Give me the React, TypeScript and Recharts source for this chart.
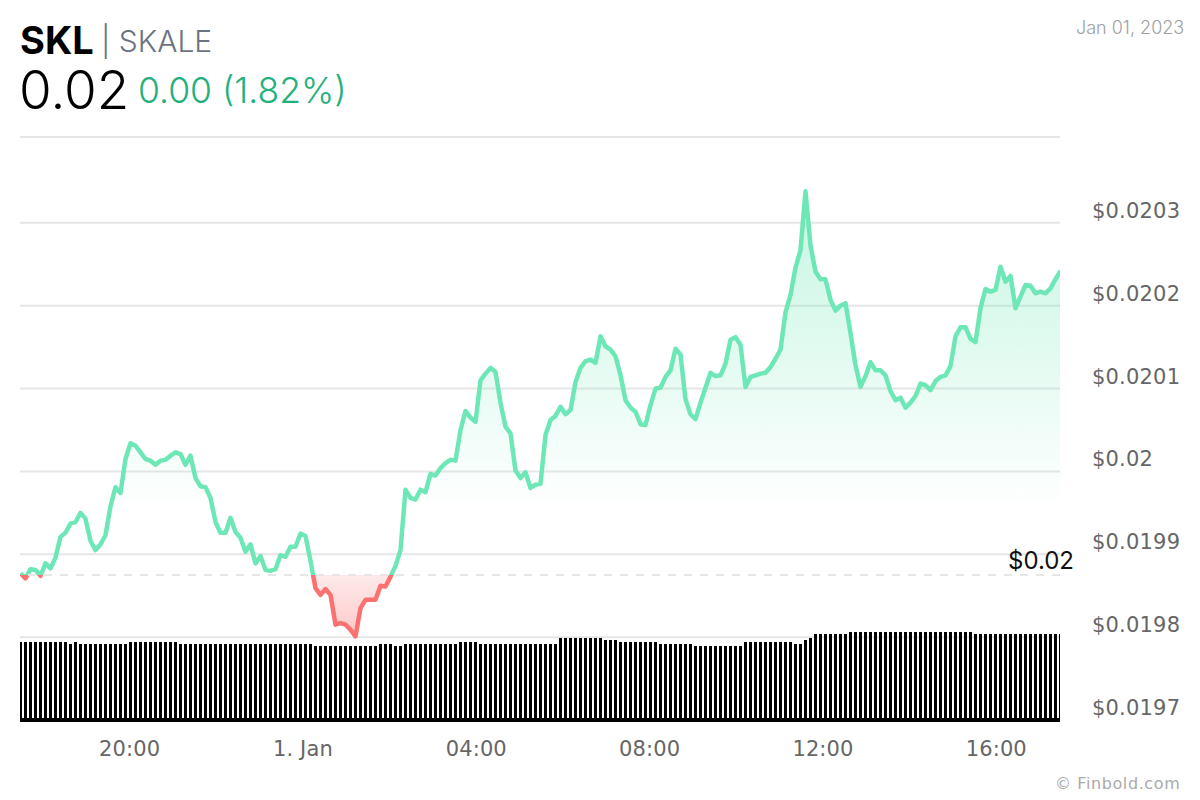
import {
  ComposedChart,
  Area,
  Bar,
  XAxis,
  YAxis,
  CartesianGrid,
  ReferenceLine,
} from 'recharts';

const prices = [
  0.019877, 0.019871, 0.019882, 0.019881, 0.019874, 0.019889, 0.019883, 0.019896, 0.019921, 0.019926,
  0.019937, 0.019939, 0.01995, 0.019943, 0.019916, 0.019905, 0.019912, 0.019923, 0.019958, 0.019981,
  0.019974, 0.020015, 0.020034, 0.020031, 0.020023, 0.020015, 0.020013, 0.020008, 0.020013, 0.020014,
  0.020019, 0.020023, 0.020021, 0.020008, 0.020019, 0.019992, 0.019982, 0.019981, 0.019968, 0.019939,
  0.019926, 0.019926, 0.019944, 0.019927, 0.01992, 0.019903, 0.019912, 0.019889, 0.019898, 0.019881,
  0.01988, 0.019882, 0.019899, 0.019897, 0.019909, 0.019909, 0.019925, 0.019922, 0.019892, 0.019859,
  0.019851, 0.019858, 0.019851, 0.019815, 0.019817, 0.019815, 0.019809, 0.019801, 0.019835, 0.019845,
  0.019845, 0.019845, 0.019862, 0.019861, 0.019873, 0.019886, 0.019905, 0.019978, 0.019968, 0.019966,
  0.019978, 0.019975, 0.019997, 0.019995, 0.020004, 0.02001, 0.020014, 0.020013, 0.02005, 0.020073,
  0.020065, 0.02006, 0.02011, 0.020118, 0.020125, 0.02012, 0.020083, 0.020054, 0.020046, 0.020001,
  0.019992, 0.019999, 0.01998, 0.019984, 0.019985, 0.020044, 0.020062, 0.020067, 0.020078, 0.020069,
  0.020074, 0.020108, 0.020125, 0.020133, 0.020135, 0.020131, 0.020163, 0.020151, 0.020147, 0.020139,
  0.020116, 0.020086, 0.020077, 0.020072, 0.020057, 0.020056, 0.02008, 0.0201, 0.020101, 0.020114,
  0.020122, 0.020148, 0.020141, 0.020087, 0.020069, 0.020063, 0.020083, 0.020101, 0.020119, 0.020115,
  0.020116, 0.02013, 0.020159, 0.020162, 0.020153, 0.020102, 0.020114, 0.020116, 0.020118, 0.020119,
  0.020126, 0.020136, 0.020147, 0.020192, 0.020213, 0.020246, 0.020267, 0.020338, 0.020273, 0.020241,
  0.020232, 0.020232, 0.020207, 0.020194, 0.0202, 0.020203, 0.020167, 0.020128, 0.020102, 0.020115,
  0.020132, 0.020122, 0.020122, 0.020116, 0.020097, 0.020086, 0.020089, 0.020077, 0.020083, 0.020091,
  0.020106, 0.020104, 0.020098, 0.020109, 0.020114, 0.020116, 0.020127, 0.020163, 0.020174, 0.020174,
  0.02016, 0.020156, 0.020197, 0.02022, 0.020217, 0.020219, 0.020247, 0.020229, 0.020236, 0.020197,
  0.020211, 0.020225, 0.020224, 0.020215, 0.020217, 0.020215, 0.020221, 0.020232, 0.020242,
];

// rolling volume, only the relative height is known from the picture
const volumes = [
  78, 78, 78, 78, 78, 78, 78, 78, 78, 78,
  76, 78, 76, 76, 76, 76, 76, 76, 76, 76,
  76, 76, 78, 78, 78, 78, 78, 78, 78, 78,
  78, 78, 76, 76, 76, 76, 76, 76, 76, 76,
  76, 76, 76, 76, 76, 76, 76, 76, 76, 76,
  76, 76, 76, 76, 76, 76, 76, 76, 76, 74,
  74, 74, 74, 74, 74, 74, 74, 74, 74, 74,
  74, 74, 76, 76, 76, 74, 74, 76, 76, 76,
  76, 76, 76, 76, 76, 76, 76, 76, 78, 78,
  78, 78, 76, 76, 76, 76, 76, 76, 76, 76,
  76, 76, 76, 76, 76, 76, 76, 76, 82, 82,
  82, 82, 82, 82, 82, 82, 82, 80, 80, 80,
  78, 78, 78, 78, 78, 78, 78, 78, 76, 76,
  76, 76, 76, 76, 76, 74, 74, 74, 74, 74,
  74, 74, 74, 74, 74, 78, 78, 78, 78, 78,
  78, 78, 78, 78, 78, 76, 76, 80, 82, 86,
  86, 86, 86, 86, 86, 86, 88, 88, 88, 88,
  88, 88, 88, 88, 88, 88, 88, 88, 88, 88,
  88, 88, 88, 88, 88, 88, 88, 88, 88, 88,
  88, 86, 86, 86, 86, 86, 86, 86, 86, 86,
  86, 86, 86, 86, 86, 86, 86, 86, 86,
];

// hours counted from midnight on 31 Dec
const START_HOUR = 17.47;
const END_HOUR = 41.47;
const FIRST_SAMPLE_HOUR = 17.4815;
const HOURS_PER_SAMPLE = 24 / 208;
const xTicks = [20, 24, 28, 32, 36, 40];
const xTickLabels = ['20:00', '1. Jan', '04:00', '08:00', '12:00', '16:00'];

const PRICE_MIN = 0.0197;
const PRICE_MAX = 0.0204036;
const yTicks = [0.0197, 0.0198, 0.0199, 0.02, 0.0201, 0.0202, 0.0203, PRICE_MAX];
const yTickLabels = ['$0.0197', '$0.0198', '$0.0199', '$0.02', '$0.0201', '$0.0202', '$0.0203', ''];
const THRESHOLD = 0.019875;

const GREEN = '#6ee7b7';
const RED = '#fb7070';
const GRID = '#e6e6e6';
const AXIS_FONT = '"DejaVu Sans", sans-serif';
const HEAD_FONT = 'Inter, sans-serif';

const chartData = prices.map((price, i) => ({
  hour: FIRST_SAMPLE_HOUR + i * HOURS_PER_SAMPLE,
  price,
  volume: volumes[i],
}));

// where the threshold sits inside the series' bounding box, for the gradients
const top = Math.max(...prices);
const bottom = Math.min(...prices);
const splitAt = (top - THRESHOLD) / (top - bottom);

function PriceTick({ x, y, payload }: any) {
  const label = yTickLabels[yTicks.indexOf(payload.value)];
  return (
    <text x={x + 2} y={y - 5} fontSize={21} letterSpacing={0.2} fill="#666" fontFamily={AXIS_FONT}>
      {label}
    </text>
  );
}

function HourTick({ x, y, payload }: any) {
  return (
    <text x={x} y={y} textAnchor="middle" fontSize={21} letterSpacing={0.1} fill="#666" fontFamily={AXIS_FONT}>
      {xTickLabels[xTicks.indexOf(payload.value)]}
    </text>
  );
}

function ThresholdLabel({ viewBox }: any) {
  return (
    <text
      x={viewBox.x + viewBox.width + 14}
      y={viewBox.y - 6}
      textAnchor="end"
      fontSize={24}
      fill="#111"
      fontFamily={HEAD_FONT}
    >
      $0.02
    </text>
  );
}

const abs = (left: number, topPx: number, extra: object) => ({
  position: 'absolute' as const,
  left,
  top: topPx,
  whiteSpace: 'nowrap' as const,
  lineHeight: 1,
  ...extra,
});

export default function App() {
  return (
    <div style={{ position: 'absolute', left: 0, top: 0, width: 1200, height: 800, background: '#fff' }}>
      <div style={abs(20, 21, { fontFamily: HEAD_FONT, fontSize: 38, fontWeight: 700, color: '#000' })}>SKL</div>
      <div style={abs(101, 26, { fontFamily: HEAD_FONT, fontSize: 30, fontWeight: 300, color: '#6b7280' })}>| SKALE</div>
      <div style={abs(19, 64, { fontFamily: HEAD_FONT, fontSize: 53, fontWeight: 300, color: '#000' })}>0.02</div>
      <div style={abs(138, 73, { fontFamily: HEAD_FONT, fontSize: 35.5, fontWeight: 300, color: '#22b07d' })}>0.00 (1.82%)</div>
      <div style={abs(1076, 19, { fontFamily: HEAD_FONT, fontSize: 18, fontWeight: 300, color: '#a0a0a0' })}>Jan 01, 2023</div>
      <div style={abs(1055, 776, { fontFamily: AXIS_FONT, fontSize: 16, letterSpacing: 0.6, color: '#aaa' })}>© Finbold.com</div>

      <ComposedChart
        width={1200}
        height={800}
        data={chartData}
        margin={{ top: 137, right: 0, bottom: 0, left: 20 }}
        style={{ position: 'absolute', left: 0, top: 0 }}
      >
        <defs>
          <linearGradient id="lineStroke" x1="0" y1="0" x2="0" y2="1">
            <stop offset={splitAt} stopColor={GREEN} />
            <stop offset={splitAt} stopColor={RED} />
          </linearGradient>
          <linearGradient id="areaFill" x1="0" y1="0" x2="0" y2="1">
            <stop offset={0} stopColor={GREEN} stopOpacity={0.4} />
            <stop offset={splitAt * 0.83} stopColor={GREEN} stopOpacity={0} />
            <stop offset={splitAt} stopColor={GREEN} stopOpacity={0} />
            <stop offset={splitAt} stopColor={RED} stopOpacity={0.15} />
            <stop offset={1} stopColor={RED} stopOpacity={0.38} />
          </linearGradient>
        </defs>
        <CartesianGrid yAxisId="price" vertical={false} stroke={GRID} strokeWidth={2} horizontalValues={yTicks} />
        <XAxis
          dataKey="hour"
          type="number"
          domain={[START_HOUR, END_HOUR]}
          allowDataOverflow
          ticks={xTicks}
          height={80}
          interval={0}
          tick={<HourTick />}
          tickLine={false}
          tickMargin={30}
          axisLine={{ stroke: '#000', strokeWidth: 4 }}
        />
        <YAxis
          yAxisId="price"
          orientation="right"
          domain={[PRICE_MIN, PRICE_MAX]}
          ticks={yTicks}
          interval={0}
          width={140}
          tick={<PriceTick />}
          tickLine={false}
          axisLine={false}
          tickMargin={24}
        />
        <YAxis yAxisId="volume" hide domain={[0, 583]} />
        <Bar
          yAxisId="volume"
          dataKey="volume"
          fill="#000"
          barSize={3}
          shapeRendering="crispEdges"
          isAnimationActive={false}
        />
        <ReferenceLine
          yAxisId="price"
          y={THRESHOLD}
          stroke={GRID}
          strokeWidth={2}
          strokeDasharray="8 8"
          label={<ThresholdLabel />}
        />
        <Area
          yAxisId="price"
          dataKey="price"
          type="linear"
          baseValue={THRESHOLD}
          stroke="url(#lineStroke)"
          strokeWidth={4.5}
          strokeLinejoin="round"
          fill="url(#areaFill)"
          fillOpacity={1}
          dot={false}
          activeDot={false}
          isAnimationActive={false}
        />
      </ComposedChart>
    </div>
  );
}
